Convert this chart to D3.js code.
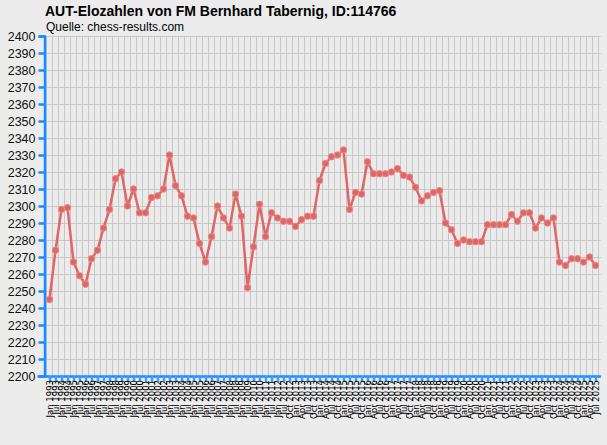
<!DOCTYPE html>
<html><head><meta charset="utf-8">
<script src="https://cdn.jsdelivr.net/npm/d3@7"></script>
<style>
html,body{margin:0;padding:0;background:#ececec;}
svg{display:block;font-family:Arial,"Liberation Sans",sans-serif;}
</style></head>
<body>
<svg id="chart" width="607" height="445"></svg>
<script>
// Dates of rating lists (semi-annual until mid-2012, then quarterly)
const periods = [];
for (let yr = 1993; yr <= 2012; yr++) { periods.push("Jan " + yr); periods.push("Jul " + yr); }
for (let yr = 2012; yr <= 2025; yr++) {
  ["Jan","Apr","Jul","Oct"].forEach(m => {
    const lbl = m + " " + yr;
    if ((yr === 2012 && m === "Oct") || (yr > 2012 && !(yr === 2025 && m === "Oct"))) periods.push(lbl);
  });
}
const ratings = [
  2245,2274,2298,2299,2267,2259,2254,2269,2274,2287,
  2298,2316,2320,2300,2310,2296,2296,2305,2306,2310,
  2330,2312,2306,2294,2293,2278,2267,2282,2300,2293,
  2287,2307,2294,2252,2276,2301,2282,2296,2293,2291,
  2291,2288,2292,2294,2294,2315,2325,2329,2330,2333,
  2298,2308,2307,2326,2319,2319,2319,2320,2322,2318,
  2317,2311,2303,2306,2308,2309,2290,2286,2278,2280,
  2279,2279,2279,2289,2289,2289,2289,2295,2291,2296,
  2296,2287,2293,2290,2293,2267,2265,2269,2269,2267,
  2270,2265
];
const yTicks = d3.range(2200, 2401, 10);
const title = "AUT-Elozahlen von FM Bernhard Tabernig, ID:114766";
const subtitle = "Quelle: chess-results.com";

(function () {
const svg = d3.select("#chart");
const mLeft = 44.5, mTop = 36, mBottom = 376, mRight = 601;
const data = periods.slice(0, ratings.length).map((p, i) => ({p, v: ratings[i]}));

const x = d3.scalePoint().domain(data.map(d => d.p)).range([49.5, 49.5 + (data.length - 1) * 6]);
const y = d3.scaleLinear().domain([2200, 2400]).range([mBottom, mTop]);

svg.append("rect").attr("x", mLeft).attr("y", mTop).attr("width", mRight - mLeft).attr("height", mBottom - mTop).attr("fill", "#ebebeb");

const g = svg.append("g");
yTicks.forEach(t => {
  g.append("line").attr("x1", mLeft).attr("x2", mRight).attr("y1", Math.round(y(t)) + 0.5).attr("y2", Math.round(y(t)) + 0.5)
    .attr("stroke", "#c8c8c8").attr("stroke-width", 1);
});
data.forEach(d => {
  const gx = x(d.p) - 3;
  g.append("line").attr("x1", gx).attr("x2", gx).attr("y1", mTop).attr("y2", mBottom).attr("stroke", "#c8c8c8").attr("stroke-width", 1);
});
const lastX = x(data[data.length - 1].p) + 3;
g.append("line").attr("x1", lastX).attr("x2", lastX).attr("y1", mTop).attr("y2", mBottom).attr("stroke", "#c8c8c8");

const yAxis = d3.axisLeft(y).tickValues(yTicks).tickSize(6).tickPadding(3).tickFormat(d3.format("d"));
const ya = svg.append("g").attr("transform", `translate(${mLeft},0)`).call(yAxis);
ya.select(".domain").attr("stroke", "#1a8cff").attr("stroke-width", 2.5);
ya.selectAll(".tick line").attr("stroke", "#1a8cff").attr("stroke-width", 2.5);
ya.selectAll(".tick text").attr("font-size", 12.5).attr("fill", "#111").attr("font-family", "Arial, 'Liberation Sans', sans-serif");

const xAxis = d3.axisBottom(x).tickSize(6).tickPadding(2);
const xa = svg.append("g").attr("transform", `translate(0,${mBottom})`).call(xAxis);
xa.select(".domain").attr("d", `M${mLeft - 7},0.5H${mRight}`).attr("stroke", "#1a8cff").attr("stroke-width", 2.5);
xa.selectAll(".tick line").attr("stroke", "#3d9cff").attr("stroke-width", 2.5);
xa.selectAll(".tick text")
  .attr("font-size", 8.5).attr("fill", "#000").attr("font-family", "'DejaVu Sans', sans-serif")
  .attr("text-anchor", "end").attr("dy", "0.32em")
  .attr("transform", "translate(0,4) rotate(-90)").attr("x", 0).attr("y", 0);

const lineGen = d3.line().x(d => x(d.p)).y(d => y(d.v));
svg.append("path").datum(data).attr("d", lineGen).attr("fill", "none")
  .attr("stroke", "#e06666").attr("stroke-width", 2.5).attr("stroke-linejoin", "round");
svg.append("g").selectAll("circle").data(data).join("circle")
  .attr("cx", d => x(d.p)).attr("cy", d => y(d.v)).attr("r", 3.2)
  .attr("fill", "#e06666").attr("stroke", "#e88888").attr("stroke-width", 1);

svg.append("text").attr("x", 45).attr("y", 16).attr("font-size", 14).attr("font-weight", "bold").attr("fill", "#000").text(title);
svg.append("text").attr("x", 46).attr("y", 31).attr("font-size", 12).attr("fill", "#000").text(subtitle);
})();
</script>
</body></html>
